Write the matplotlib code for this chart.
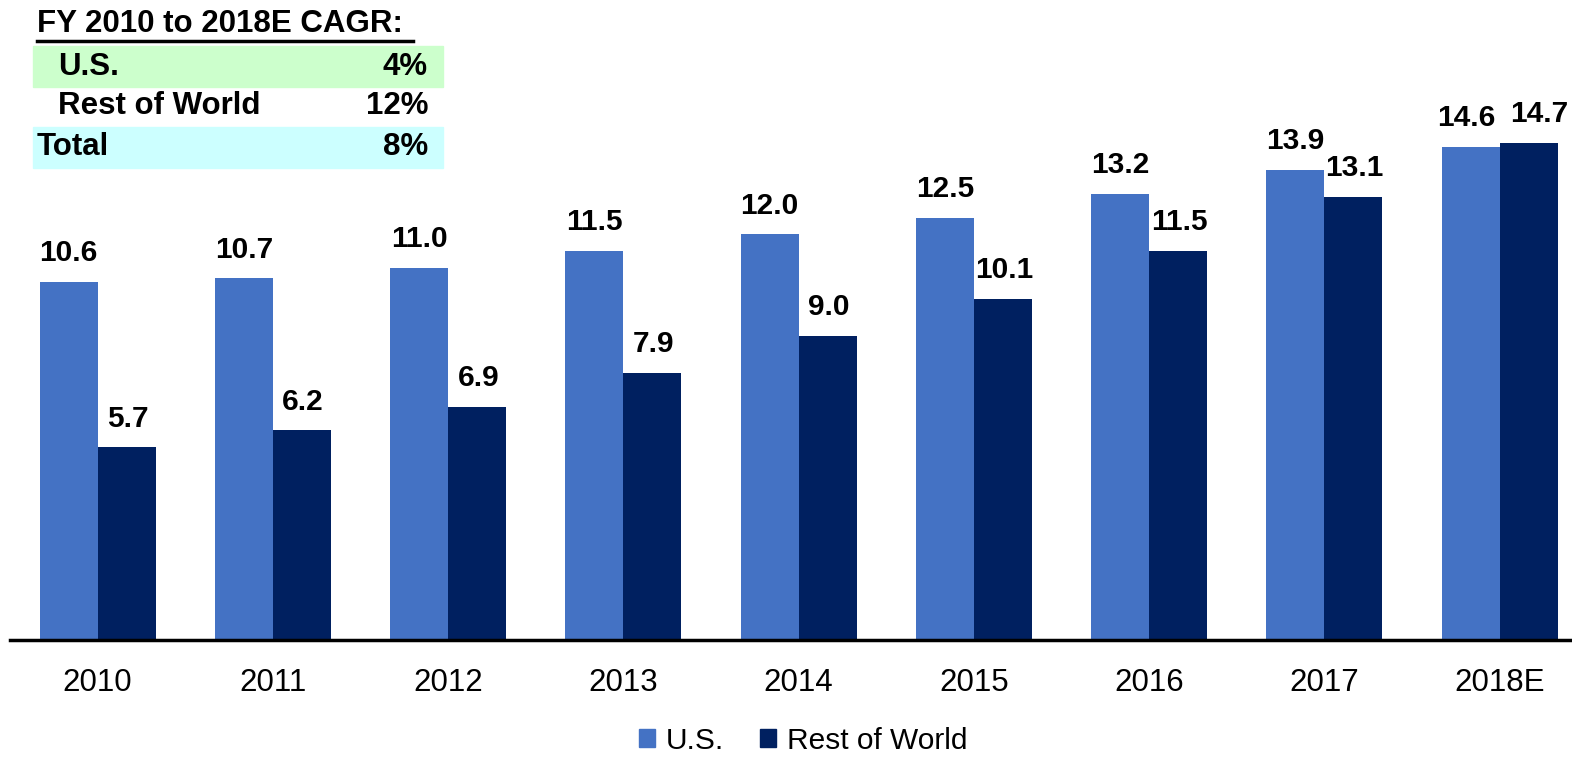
import matplotlib
matplotlib.use("Agg")
import matplotlib.pyplot as plt
from matplotlib.patches import Rectangle, Patch
from matplotlib.lines import Line2D
import numpy as np

plt.rcParams['font.family'] = ['Liberation Sans', 'DejaVu Sans']

categories = ["2010", "2011", "2012", "2013", "2014", "2015", "2016", "2017", "2018E"]
us_values = [10.6, 10.7, 11.0, 11.5, 12.0, 12.5, 13.2, 13.9, 14.6]
row_values = [5.7, 6.2, 6.9, 7.9, 9.0, 10.1, 11.5, 13.1, 14.7]
series_names = ["U.S.", "Rest of World"]
cagr_title = "FY 2010 to 2018E CAGR:"
cagr_labels = ["U.S.", "Rest of World", "Total"]
cagr_values = ["4%", "12%", "8%"]

US_COLOR = "#4472C4"
ROW_COLOR = "#002060"
FS = 22.5
VFS = 21.5

W, H = 1572, 757
fig = plt.figure(figsize=(W / 100, H / 100), dpi=100)

def fx(x):
    return x / W

def fy(y):
    return 1 - y / H

step = 175.25
left_px = 10
right_px = 97 + 8.5 * step + 0.5
ymax = 16
px_per_unit = 33.8
top_px = 640 - ymax * px_per_unit
ax = fig.add_axes([fx(left_px), fy(640), fx(right_px - left_px), (640 - top_px) / H])
x = np.arange(len(categories))
bw = 0.331
ax.bar(x - bw / 2, us_values, width=bw, color=US_COLOR, label=series_names[0])
ax.bar(x + bw / 2, row_values, width=bw, color=ROW_COLOR, label=series_names[1])
ax.set_xlim(-0.5, 8.5)
ax.set_ylim(0, ymax)
for s in ["top", "right", "left"]:
    ax.spines[s].set_visible(False)
ax.spines["bottom"].set_linewidth(2.5)
ax.spines["bottom"].set_color("black")
ax.set_yticks([])
ax.set_xticks(x)
ax.set_xticklabels(categories, fontsize=FS)
ax.tick_params(axis="x", length=0, pad=20)

n = len(categories)
for i in range(n):
    dx_us = -3 if i == n - 1 else 0
    dx_row = 8 if i == n - 1 else 1
    ax.annotate(f"{us_values[i]:.1f}", (x[i] - bw / 2, us_values[i]), xytext=(dx_us, 15),
                textcoords="offset points", ha="center", va="baseline",
                fontsize=VFS, fontweight="bold")
    ax.annotate(f"{row_values[i]:.1f}", (x[i] + bw / 2, row_values[i]), xytext=(dx_row, 15),
                textcoords="offset points", ha="center", va="baseline",
                fontsize=VFS, fontweight="bold")

# CAGR table
fig.patches.append(Rectangle((fx(33), fy(87)), fx(443 - 33), (87 - 46) / H,
                             transform=fig.transFigure, color="#CCFFCC", zorder=0))
fig.patches.append(Rectangle((fx(33), fy(168)), fx(443 - 33), (168 - 127) / H,
                             transform=fig.transFigure, color="#CCFFFF", zorder=0))
fig.text(fx(37), fy(24), cagr_title, fontsize=FS, fontweight="bold", va="center", ha="left")
fig.lines.append(Line2D([fx(37), fx(413)], [fy(41), fy(41)], transform=fig.transFigure,
                        color="black", linewidth=2.5))
row_y = [67, 106, 147]
label_x = [58, 58, 37]
for lab, val, yy, lx in zip(cagr_labels, cagr_values, row_y, label_x):
    fig.text(fx(lx), fy(yy), lab, fontsize=FS, fontweight="bold", va="center", ha="left")
    fig.text(fx(428), fy(yy), val, fontsize=FS, fontweight="bold", va="center", ha="right")

handles = [Patch(color=US_COLOR, label=series_names[0]),
           Patch(color=ROW_COLOR, label=series_names[1])]
fig.legend(handles=handles, loc="center", bbox_to_anchor=(fx(803), fy(741)), ncol=2,
           frameon=False, fontsize=21.5, handlelength=0.55, handleheight=0.55,
           handletextpad=0.35, columnspacing=1.2)

fig.savefig("out.png", dpi=100)
